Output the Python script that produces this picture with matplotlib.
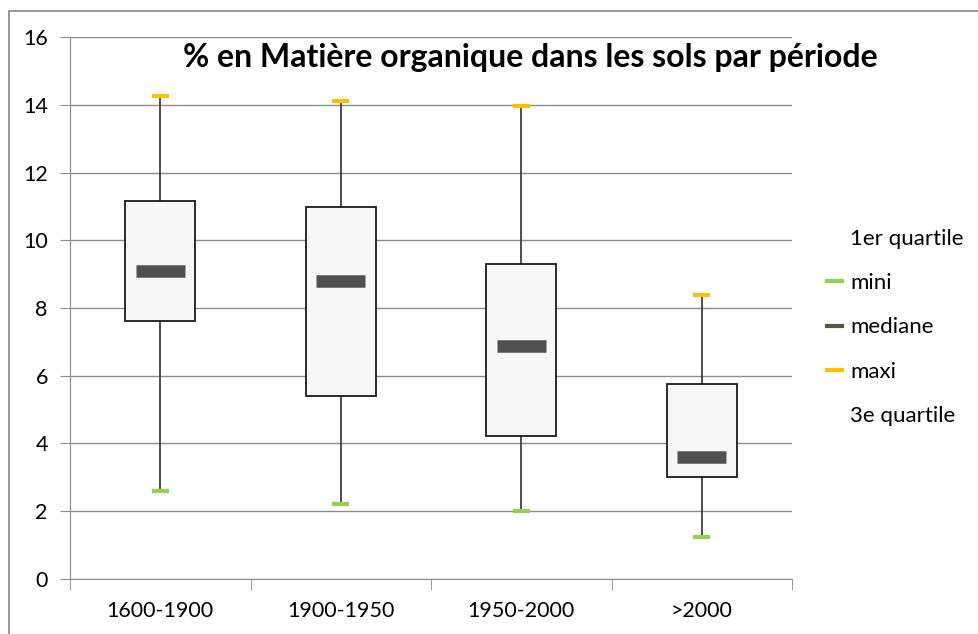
import matplotlib.pyplot as plt
from matplotlib.lines import Line2D
from matplotlib.patches import Rectangle

plt.rcParams['font.family'] = ['Lato', 'DejaVu Sans']

periods = ['1600-1900', '1900-1950', '1950-2000', '>2000']
mini = [2.6, 2.21, 2.0, 1.24]
q1 = [7.62, 5.40, 4.22, 3.01]
mediane = [9.09, 8.80, 6.88, 3.60]
q3 = [11.16, 10.98, 9.30, 5.76]
maxi = [14.25, 14.11, 13.96, 8.38]

green = '#92d050'
olive = '#4f5b45'
orange = '#ffc000'
grid_grey = '#8c8c8c'

fig = plt.figure(figsize=(9.79, 6.34), dpi=100)
ax = fig.add_axes([0.0715, 0.0868, 0.7375, 0.8548])

x = list(range(len(periods)))

# whiskers behind the boxes
ax.vlines(x, mini, maxi, color='#404040', lw=1.3, zorder=2)
ax.bar(x, [b - a for a, b in zip(q1, q3)], bottom=q1, width=0.39,
       color='#f7f7f7', edgecolor='#1a1a1a', linewidth=1.3, zorder=3)
ax.hlines(mediane, [i - 0.135 for i in x], [i + 0.135 for i in x],
          color='#505050', lw=9, zorder=4)
ax.hlines(mini, [i - 0.048 for i in x], [i + 0.048 for i in x],
          color=green, lw=3, zorder=4)
ax.hlines(maxi, [i - 0.048 for i in x], [i + 0.048 for i in x],
          color=orange, lw=3, zorder=4)

ax.set_xlim(-0.5, 3.5)
ax.set_ylim(0, 16)
ax.set_yticks(range(0, 17, 2))
ax.set_xticks(x)
ax.set_xticklabels(periods)
ax.set_xticks([-0.5, 0.5, 1.5, 2.5, 3.5], minor=True)
ax.tick_params(axis='x', which='major', length=0, pad=16, labelsize=15.5)
ax.tick_params(axis='x', which='minor', length=8, color=grid_grey)
ax.tick_params(axis='y', length=7, color=grid_grey, pad=9, labelsize=15.5)
ax.yaxis.grid(True, color=grid_grey, lw=1)
ax.set_axisbelow(True)
for s in ['top', 'right']:
    ax.spines[s].set_visible(False)
for s in ['left', 'bottom']:
    ax.spines[s].set_color(grid_grey)

fig.text(0.542, 0.91, '% en Matière organique dans les sols par période',
         ha='center', va='center', fontsize=23, fontweight='bold')

handles = [
    Line2D([], [], color='none'),
    Line2D([], [], color=green, lw=3),
    Line2D([], [], color=olive, lw=3),
    Line2D([], [], color=orange, lw=3),
    Line2D([], [], color='none'),
]
labels = ['1er quartile', 'mini', 'mediane', 'maxi', '3e quartile']
fig.legend(handles, labels, loc='upper left', bbox_to_anchor=(0.824, 0.671),
           frameon=False, fontsize=16, handlelength=0.7, handletextpad=0.35,
           labelspacing=1.1)

# outer chart border
fig.patches.append(Rectangle((9 / 979, -0.1), 1.2, 1 - 11 / 634 + 0.1,
                             transform=fig.transFigure, fill=False,
                             edgecolor='#868686', lw=1.2))

fig.savefig('out.png', dpi=100)
